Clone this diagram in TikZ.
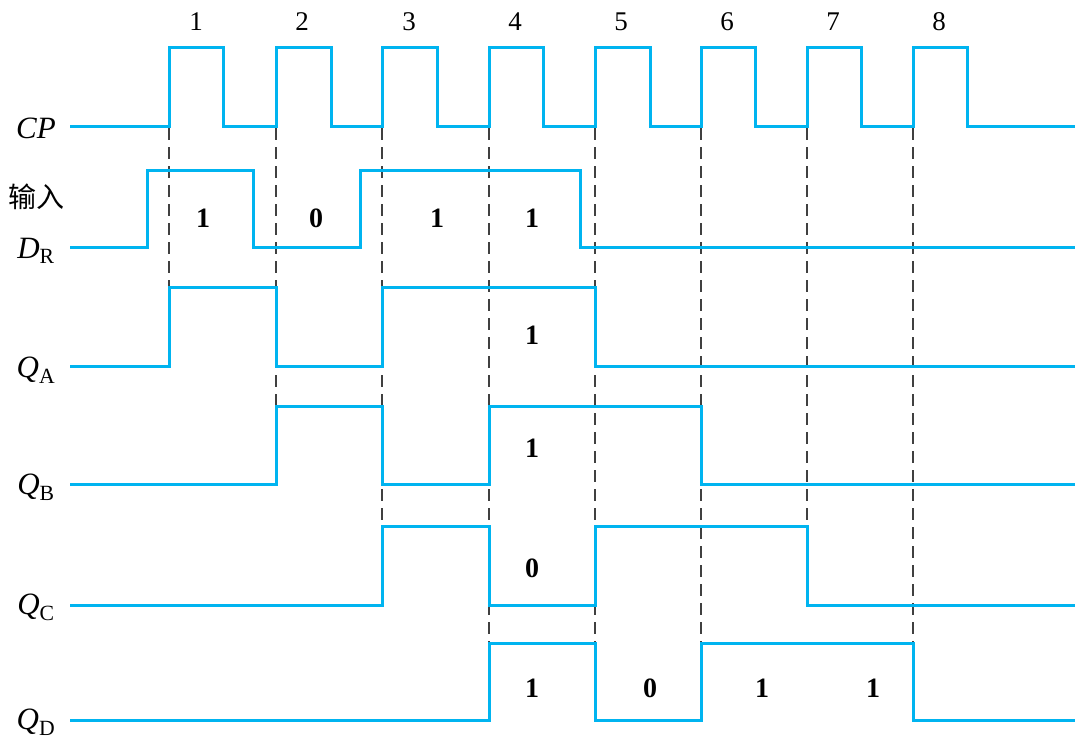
\documentclass[tikz,border=0pt]{standalone}
\usepackage{fontspec}
\setmainfont{Liberation Serif}
\newfontfamily\cjk{Noto Sans CJK SC}
\begin{document}
\begin{tikzpicture}[x=1pt,y=-1pt,
  sig/.style={draw={rgb,255:red,0;green,180;blue,240},line width=3pt,line join=miter},
  guide/.style={draw=black!75,line width=1.6pt,dash pattern=on 12pt off 7pt},
  num/.style={font=\fontsize{27}{27}\selectfont},
  bit/.style={font=\bfseries\fontsize{28}{28}\selectfont},
  lab/.style={font=\itshape\fontsize{31}{31}\selectfont}]
\useasboundingbox (0,0) rectangle (1088,748);
% dashed guides
\foreach \x/\e in {169/287,276/406,382/526,489/643,595/643,701/643,807/526,913/643}
  \draw[guide] (\x,128) -- (\x,\e);
% CP
\draw[sig] (70,126) \foreach \r/\f in {169/223,276/331,382/437,489/543,595/650,701/755,807/861,913/967}{ -- (\r,126) -- (\r,47) -- (\f,47) -- (\f,126)} -- (1075,126);
\foreach \n/\x in {1/196,2/302,3/409,4/515,5/621,6/727,7/833,8/939}
  \node[num] (c\n) at (\x,22) {\n};
% DR
\draw[sig] (70,247) -- (147,247) -- (147,170) -- (253,170) -- (253,247) -- (360,247) -- (360,170) -- (580,170) -- (580,247) -- (1075,247);
% QA
\draw[sig] (70,366) -- (169,366) -- (169,287) -- (276,287) -- (276,366) -- (382,366) -- (382,287) -- (595,287) -- (595,366) -- (1075,366);
% QB
\draw[sig] (70,484) -- (276,484) -- (276,406) -- (382,406) -- (382,484) -- (489,484) -- (489,406) -- (701,406) -- (701,484) -- (1075,484);
% QC
\draw[sig] (70,605) -- (382,605) -- (382,526) -- (489,526) -- (489,605) -- (595,605) -- (595,526) -- (807,526) -- (807,605) -- (1075,605);
% QD
\draw[sig] (70,720) -- (489,720) -- (489,643) -- (595,643) -- (595,720) -- (701,720) -- (701,643) -- (913,643) -- (913,720) -- (1075,720);
% bits
\foreach \t/\x/\y [count=\i] in {1/203/218,0/316/218,1/437/218,1/532/218,1/532/335,1/532/448,0/532/568,1/532/688,0/650/688,1/762/688,1/873/688}
  \node[bit] (b\i) at (\x,\y) {\t};
% labels
\node[lab] (lcp) at (36,128) {CP};
\node[font=\cjk\fontsize{28}{28}\selectfont] (lin) at (37,197) {输入};
\node[lab] (ldr) at (36,251) {D\textsubscript{\upshape R}};
\node[lab] (lqa) at (36,370) {Q\textsubscript{\upshape A}};
\node[lab] (lqb) at (36,487) {Q\textsubscript{\upshape B}};
\node[lab] (lqc) at (36,607) {Q\textsubscript{\upshape C}};
\node[lab] (lqd) at (36,722) {Q\textsubscript{\upshape D}};
\end{tikzpicture}
\end{document}
